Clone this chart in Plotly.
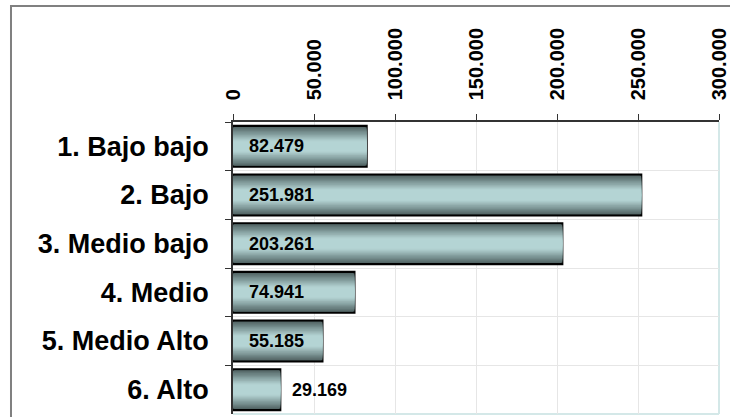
import plotly.graph_objects as go

categories = ["1. Bajo bajo", "2. Bajo", "3. Medio bajo", "4. Medio", "5. Medio Alto", "6. Alto"]
values = [82479, 251981, 203261, 74941, 55185, 29169]
tick_values = [0, 50000, 100000, 150000, 200000, 250000, 300000]
tick_labels = ["0", "50.000", "100.000", "150.000", "200.000", "250.000", "300.000"]
inside_label = [True, True, True, True, True, False]

FONT = "Arial, Liberation Sans, sans-serif"

def lerp(c1, c2, t):
    return "rgb(%d,%d,%d)" % tuple(round(a + (b - a) * t) for a, b in zip(c1, c2))

dark = (78, 96, 96)
light = (180, 212, 212)

fig = go.Figure()
N = 16
full_w = 0.84
for k in range(N):
    t = k / (N - 1)            # 0 = outer edge, 1 = centre
    w = full_w * (1 - t * 0.95)
    f = min(1.0, t / 0.75)
    col = lerp(dark, light, f)
    fig.add_trace(go.Bar(
        x=values, y=categories, orientation="h", width=w,
        marker=dict(color=col,
                    line=dict(color="black", width=2.2 if k == 0 else 0)),
        hoverinfo="skip" if k else None, showlegend=False,
    ))

for c, v, ins in zip(categories, values, inside_label):
    txt = f"{v:,}".replace(",", ".")
    fig.add_annotation(
        x=0 if ins else v, y=c, xref="x", yref="y",
        text=f"<b>{txt}</b>", showarrow=False, xanchor="left",
        xshift=14 if ins else 10,
        font=dict(family=FONT, size=18, color="black"),
    )

fig.update_layout(
    width=730, height=417,
    margin=dict(l=233, r=11, t=122, b=3, autoexpand=False),
    barmode="overlay",
    separators=",.",
    paper_bgcolor="white", plot_bgcolor="white",
    showlegend=False,
    xaxis=dict(
        side="top", range=[0, 300000], tickvals=tick_values, ticktext=tick_labels,
        tickangle=-90, tickfont=dict(family=FONT, size=20, color="black", weight="bold"),
        ticks="outside", ticklen=6, tickcolor="#333", tickwidth=1,
        showline=True, linecolor="#333", linewidth=1.5,
        showgrid=True, gridcolor="#e6e6e6", gridwidth=1, zeroline=False,
        ticklabelstandoff=10, automargin=False,
    ),
    yaxis=dict(
        categoryorder="array", categoryarray=categories, autorange="reversed",
        tickfont=dict(family=FONT, size=27, color="black", weight="bold"),
        ticks="outside", ticklen=6, tickcolor="#333", tickwidth=1,
        tickson="boundaries",
        showline=True, linecolor="#333", linewidth=1.5,
        showgrid=True, gridcolor="#e6e6e6", gridwidth=1,
        ticklabelstandoff=17, automargin=False,
    ),
    shapes=[
        dict(type="rect", xref="paper", yref="paper", x0=-0.4568, x1=1.05, y0=-0.05, y1=1.3973,
             line=dict(color="#808080", width=2), fillcolor="rgba(0,0,0,0)", layer="below"),
        dict(type="line", xref="paper", yref="paper", x0=1, x1=1, y0=0, y1=1,
             line=dict(color="#d4e8e8", width=2), layer="below"),
        dict(type="line", xref="paper", yref="paper", x0=0, x1=1, y0=0, y1=0,
             line=dict(color="#d4e8e8", width=2), layer="below"),
    ],
)

fig.write_html("out.html", config={"displayModeBar": False},
               post_script="document.body.style.margin='0';")
